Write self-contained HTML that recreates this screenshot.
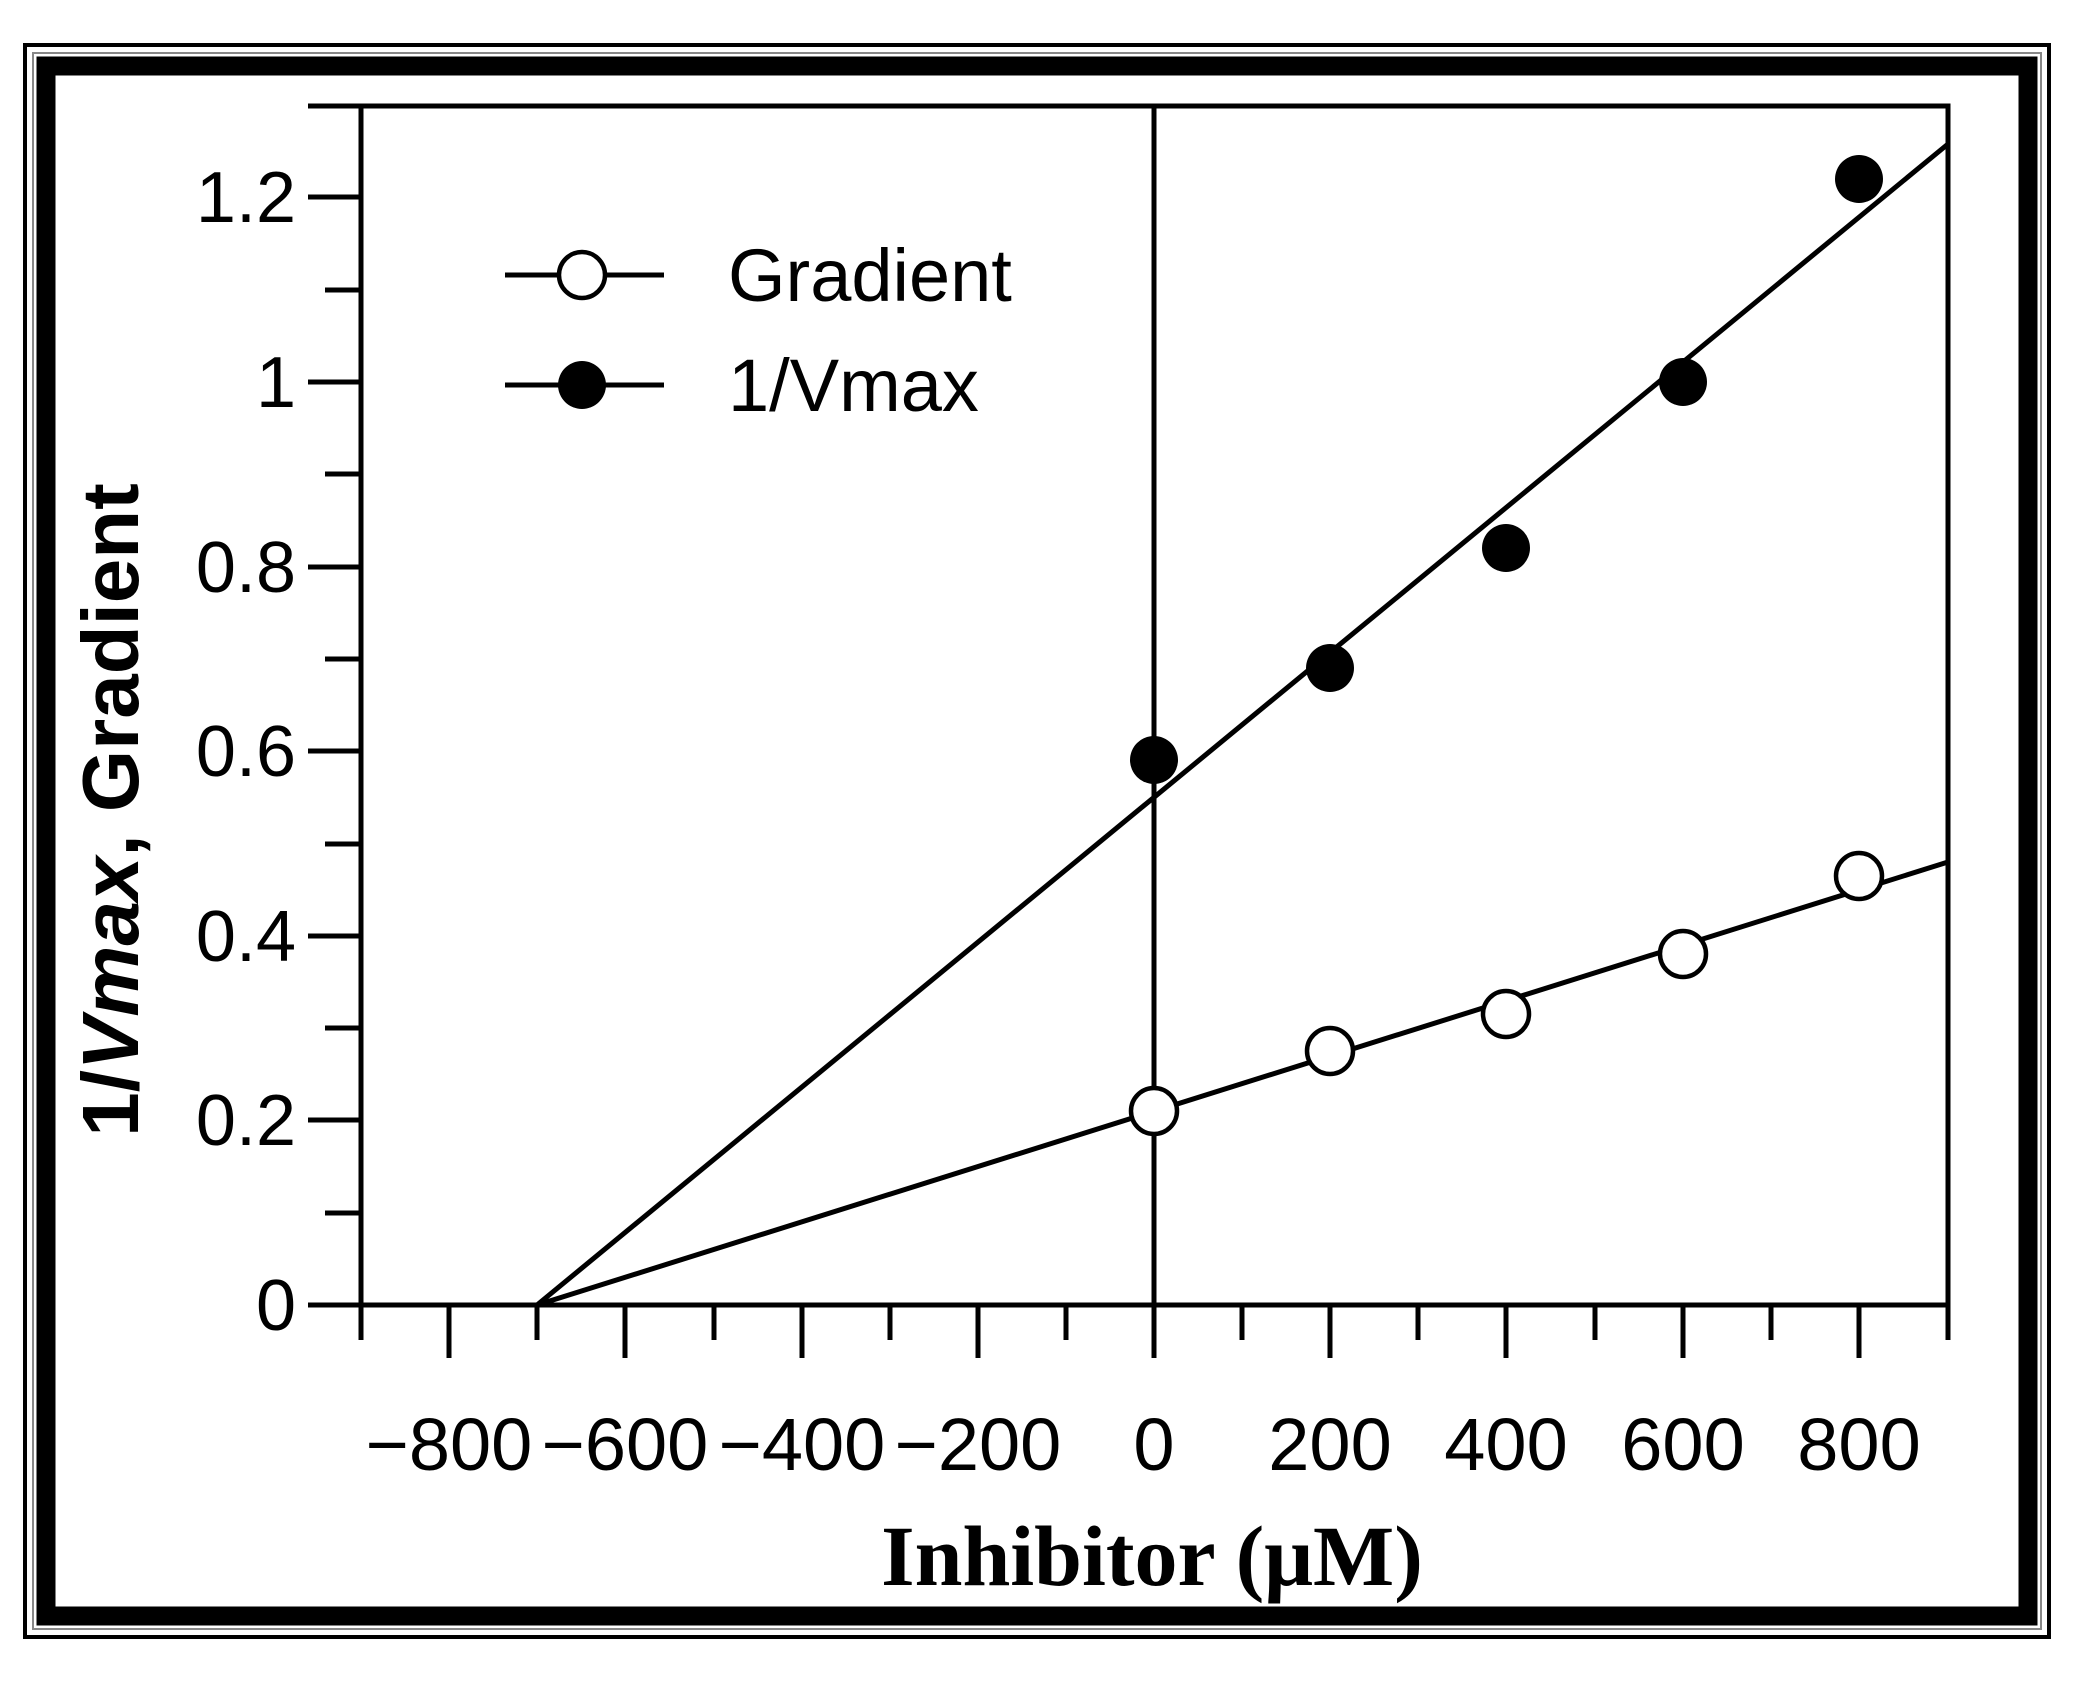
<!DOCTYPE html>
<html><head><style>html,body{margin:0;padding:0;background:#fff}</style></head><body>
<svg width="2076" height="1676" viewBox="0 0 2076 1676" xmlns="http://www.w3.org/2000/svg">
<rect x="0" y="0" width="2076" height="1676" fill="#fff"/>
<rect x="25" y="45" width="2024" height="1592" fill="none" stroke="#000" stroke-width="4"/>
<rect x="33" y="53" width="2008" height="1576" fill="none" stroke="#888" stroke-width="2"/>
<rect x="46" y="66" width="1982" height="1550" fill="none" stroke="#000" stroke-width="19"/>
<g stroke="#000" stroke-width="5" fill="none">
<path d="M361 106 V1305 H1948 V106 H308"/>
<line x1="1154" y1="106" x2="1154" y2="1305"/>
<g>
<line x1="308" y1="1305" x2="361" y2="1305"/><line x1="325" y1="1213" x2="361" y2="1213"/>
<line x1="308" y1="1120" x2="361" y2="1120"/><line x1="325" y1="1028" x2="361" y2="1028"/>
<line x1="308" y1="936" x2="361" y2="936"/><line x1="325" y1="844" x2="361" y2="844"/>
<line x1="308" y1="751" x2="361" y2="751"/><line x1="325" y1="659" x2="361" y2="659"/>
<line x1="308" y1="567" x2="361" y2="567"/><line x1="325" y1="474" x2="361" y2="474"/>
<line x1="308" y1="382" x2="361" y2="382"/><line x1="325" y1="290" x2="361" y2="290"/>
<line x1="308" y1="197" x2="361" y2="197"/>
</g>
<g>
<line x1="361" y1="1305" x2="361" y2="1340"/><line x1="449" y1="1305" x2="449" y2="1358"/>
<line x1="537" y1="1305" x2="537" y2="1340"/><line x1="625" y1="1305" x2="625" y2="1358"/>
<line x1="714" y1="1305" x2="714" y2="1340"/><line x1="802" y1="1305" x2="802" y2="1358"/>
<line x1="890" y1="1305" x2="890" y2="1340"/><line x1="978" y1="1305" x2="978" y2="1358"/>
<line x1="1066" y1="1305" x2="1066" y2="1340"/><line x1="1154" y1="1305" x2="1154" y2="1358"/>
<line x1="1242" y1="1305" x2="1242" y2="1340"/><line x1="1330" y1="1305" x2="1330" y2="1358"/>
<line x1="1418" y1="1305" x2="1418" y2="1340"/><line x1="1506" y1="1305" x2="1506" y2="1358"/>
<line x1="1595" y1="1305" x2="1595" y2="1340"/><line x1="1683" y1="1305" x2="1683" y2="1358"/>
<line x1="1771" y1="1305" x2="1771" y2="1340"/><line x1="1859" y1="1305" x2="1859" y2="1358"/>
<line x1="1948" y1="1305" x2="1948" y2="1340"/>
</g>
<line x1="537" y1="1305" x2="1948" y2="144"/>
<line x1="537" y1="1305" x2="1948" y2="862"/>
<line x1="505" y1="275" x2="664" y2="275"/>
<line x1="505" y1="385" x2="664" y2="385"/>
</g>
<g fill="#000">
<circle cx="1154" cy="760" r="24"/><circle cx="1330" cy="668" r="24"/>
<circle cx="1506" cy="548" r="24"/><circle cx="1683" cy="382" r="24"/>
<circle cx="1859" cy="179" r="24"/><circle cx="582" cy="385" r="24"/>
</g>
<g fill="#fff" stroke="#000" stroke-width="4.5">
<circle cx="1154" cy="1111" r="23"/><circle cx="1330" cy="1051" r="23"/>
<circle cx="1506" cy="1014" r="23"/><circle cx="1683" cy="954" r="23"/>
<circle cx="1859" cy="876" r="23"/><circle cx="582" cy="275" r="23"/>
</g>
<g font-family="Liberation Sans, sans-serif" fill="#000">
<g font-size="74">
<text x="728" y="301">Gradient</text>
<text x="728" y="411">1/Vmax</text>
</g>
<g font-size="72" text-anchor="end">
<text x="296" y="1330">0</text><text x="296" y="1145">0.2</text>
<text x="296" y="961">0.4</text><text x="296" y="776">0.6</text>
<text x="296" y="592">0.8</text><text x="296" y="407">1</text>
<text x="296" y="222">1.2</text>
</g>
<g font-size="74" text-anchor="middle">
<text x="449" y="1470">−800</text><text x="625" y="1470">−600</text>
<text x="802" y="1470">−400</text><text x="978" y="1470">−200</text>
<text x="1154" y="1470">0</text><text x="1330" y="1470">200</text>
<text x="1506" y="1470">400</text><text x="1683" y="1470">600</text>
<text x="1859" y="1470">800</text>
</g>
</g>
<text x="1152" y="1585" text-anchor="middle" font-family="Liberation Serif, serif" font-weight="bold" font-size="86">Inhibitor (μM)</text>
<text transform="translate(138,810) rotate(-90)" text-anchor="middle" font-family="Liberation Sans, sans-serif" font-weight="bold" font-size="80">1/<tspan font-style="italic">Vmax</tspan>, Gradient</text>
</svg>
</body></html>
